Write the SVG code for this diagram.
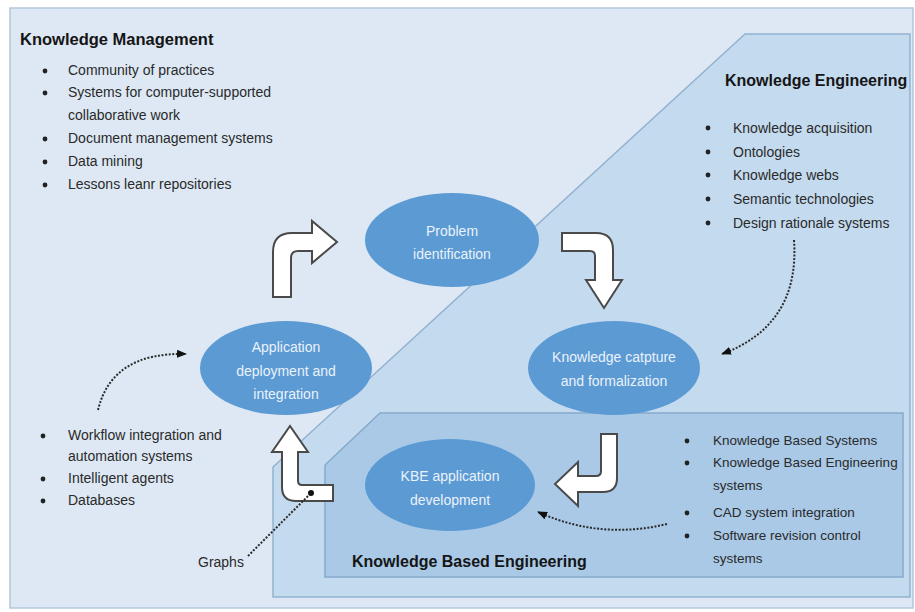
<svg xmlns="http://www.w3.org/2000/svg" width="915" height="612" viewBox="0 0 915 612">
<defs>
<style>
.t{font-family:"Liberation Sans",Arial,sans-serif;font-size:14px;fill:#2a2a2a}
.s{font-family:"Liberation Sans",Arial,sans-serif;font-size:13.5px;fill:#2a2a2a}
.h{font-family:"Liberation Sans",Arial,sans-serif;font-size:16px;font-weight:bold;fill:#151515}
.e{font-family:"Liberation Sans",Arial,sans-serif;font-size:14px;fill:#eaf2fb;text-anchor:middle}
.ell{fill:#5b9ad3}
.blk{fill:#ffffff;stroke:#4a4a4a;stroke-width:2;stroke-linejoin:miter}
.dot{fill:none;stroke:#2a2a2a;stroke-width:2;stroke-dasharray:2 1.6}
.b{fill:#222}
</style>
<marker id="ah" viewBox="0 0 10 8" refX="9" refY="4" markerWidth="10" markerHeight="8" markerUnits="userSpaceOnUse" orient="auto">
<path d="M0,0 L10,4 L0,8 z" fill="#111"/>
</marker>
</defs>
<rect x="0" y="0" width="915" height="612" fill="#ffffff"/>
<rect x="10" y="8" width="903" height="600" fill="#dde8f4" stroke="#b3c7db" stroke-width="1.5"/>
<polygon points="273,597 273,467 745,34 910,34 910,597" fill="#c4daef" stroke="#93b2cf" stroke-width="1.5"/>
<polygon points="325,577 325,465 380,413 903,413 903,577" fill="#a9c9e7" stroke="#86a9cb" stroke-width="1.5"/>

<g id="km-list">
<text class="h" x="20" y="45" style="font-size:16.5px">Knowledge Management</text>
<circle class="b" cx="45" cy="71" r="2.4"/><text class="t" x="68" y="75">Community of practices</text>
<circle class="b" cx="45" cy="93" r="2.4"/><text class="t" x="68" y="97">Systems for computer-supported</text>
<text class="t" x="68" y="120">collaborative work</text>
<circle class="b" cx="45" cy="139" r="2.4"/><text class="t" x="68" y="143">Document management systems</text>
<circle class="b" cx="45" cy="162" r="2.4"/><text class="t" x="68" y="166">Data mining</text>
<circle class="b" cx="45" cy="185" r="2.4"/><text class="t" x="68" y="189">Lessons leanr repositories</text>
</g>

<g id="ke-list">
<text class="h" x="725" y="86">Knowledge Engineering</text>
<circle class="b" cx="708" cy="128" r="2.4"/><text class="t" x="733" y="133">Knowledge acquisition</text>
<circle class="b" cx="708" cy="152" r="2.4"/><text class="t" x="733" y="157">Ontologies</text>
<circle class="b" cx="708" cy="175" r="2.4"/><text class="t" x="733" y="180">Knowledge webs</text>
<circle class="b" cx="708" cy="199" r="2.4"/><text class="t" x="733" y="204">Semantic technologies</text>
<circle class="b" cx="708" cy="223" r="2.4"/><text class="t" x="733" y="228">Design rationale systems</text>
</g>

<g id="app-list">
<circle class="b" cx="43" cy="436" r="2.4"/><text class="t" x="68" y="440">Workflow integration and</text>
<text class="t" x="68" y="461">automation systems</text>
<circle class="b" cx="43" cy="479" r="2.4"/><text class="t" x="68" y="483">Intelligent agents</text>
<circle class="b" cx="43" cy="501" r="2.4"/><text class="t" x="68" y="505">Databases</text>
</g>

<g id="kbe-list">
<text class="h" x="352" y="567">Knowledge Based Engineering</text>
<circle class="b" cx="687" cy="441" r="2.4"/><text class="s" x="713" y="445">Knowledge Based Systems</text>
<circle class="b" cx="687" cy="463" r="2.4"/><text class="s" x="713" y="467">Knowledge Based Engineering</text>
<text class="s" x="713" y="490">systems</text>
<circle class="b" cx="687" cy="513" r="2.4"/><text class="s" x="713" y="517">CAD system integration</text>
<circle class="b" cx="687" cy="536" r="2.4"/><text class="s" x="713" y="540">Software revision control</text>
<text class="s" x="713" y="563">systems</text>
</g>

<g id="graphs-label">
<text class="t" x="198" y="567">Graphs</text>
</g>

<g id="connectors">
<path class="blk" d="M273,297 V252 Q273,233 292,233 H312 V221 L337,242 L312,263 V251 H298 Q291,251 291,258 V297 Z"/>
<path class="blk" d="M562,233 H596 Q613,233 613,250 V280 H622 L604,308 L586,280 H595 V256 Q595,251 590,251 H562 Z"/>
<path class="blk" d="M601,434 H617 V478 Q617,492 603,492 H578 V506 L555,484 L578,462 V476 H596 Q601,476 601,471 Z"/>
<path class="blk" d="M333,485 V501 H296 Q282,501 282,487 V452 H272 L290,426 L308,452 H298 V481 Q298,485 302,485 Z"/>
<path class="dot" d="M98,410 Q112,352 186,354" marker-end="url(#ah)"/>
<path class="dot" d="M794,240 Q800,325 722,354" marker-end="url(#ah)"/>
<path class="dot" d="M667,524 Q600,540 538,512" marker-end="url(#ah)"/>
<path class="dot" d="M248,556 L311,493"/>
<circle cx="311" cy="493" r="3" fill="#111"/>
</g>

<g id="problem">
<ellipse class="ell" cx="452" cy="240" rx="87" ry="47"/>
<text class="e" x="452" y="236">Problem</text>
<text class="e" x="452" y="259">identification</text>
</g>
<g id="application">
<ellipse class="ell" cx="286" cy="368" rx="86" ry="47"/>
<text class="e" x="286" y="352">Application</text>
<text class="e" x="286" y="376">deployment and</text>
<text class="e" x="286" y="399">integration</text>
</g>
<g id="capture">
<ellipse class="ell" cx="614" cy="368" rx="86" ry="47"/>
<text class="e" x="614" y="362">Knowledge catpture</text>
<text class="e" x="614" y="386">and formalization</text>
</g>
<g id="kbe-dev">
<ellipse class="ell" cx="450" cy="485" rx="85" ry="46"/>
<text class="e" x="450" y="481">KBE application</text>
<text class="e" x="450" y="505">development</text>
</g>
</svg>
